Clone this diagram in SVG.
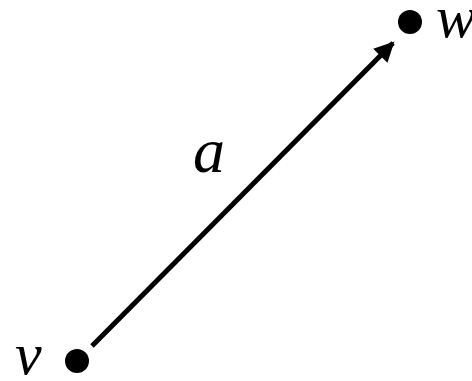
<svg xmlns="http://www.w3.org/2000/svg" width="472" height="381" viewBox="0 0 472 381">
<style>
.lbl{font-family:"Liberation Serif","Times New Roman",serif;font-style:italic;fill:#000}
.dot{fill:#000}
</style>
<defs>
<marker id="ah" viewBox="0 0 10 10" refX="9" refY="5" markerWidth="4.4" markerHeight="4" orient="auto" markerUnits="strokeWidth">
<path d="M0,0 L10,5 L0,10 Z" fill="#000"/>
</marker>
</defs>
<g id="connectors">
<line x1="92" y1="346" x2="393" y2="43" stroke="#000" stroke-width="5" marker-end="url(#ah)"/>
</g>
<g id="node-w">
<circle class="dot" cx="410" cy="22" r="12"/>
<text class="lbl" x="436" y="37" font-size="60">w</text>
</g>
<g id="node-v">
<circle class="dot" cx="77" cy="361" r="12"/>
<text class="lbl" x="15" y="374" font-size="60">v</text>
</g>
<g id="label-a">
<text class="lbl" x="193" y="172" font-size="64">a</text>
</g>
</svg>
